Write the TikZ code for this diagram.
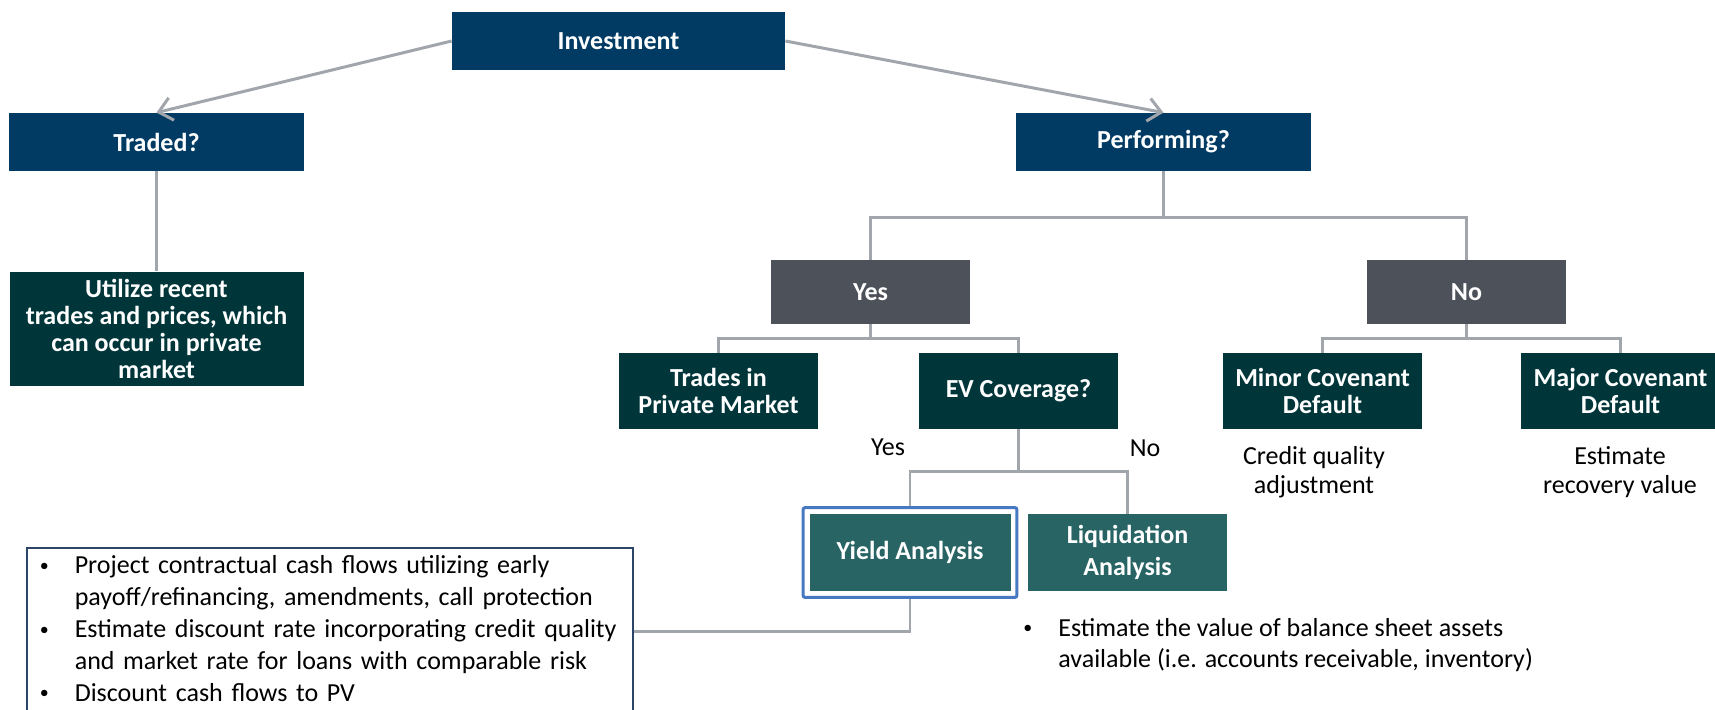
\documentclass[tikz,border=0pt]{standalone}
\usepackage{fontspec}
\setmainfont{Carlito}
\usetikzlibrary{arrows.meta,positioning,fit,calc}
\definecolor{navyc}{HTML}{013B63}
\definecolor{darkc}{HTML}{00363A}
\definecolor{slatec}{HTML}{4D5159}
\definecolor{tealc}{HTML}{296465}
\definecolor{linkc}{HTML}{A1A6AD}
\definecolor{framec}{HTML}{4679C2}
\definecolor{notec}{HTML}{2B4468}
\newcommand{\bul}{\makebox[19pt][l]{\hspace{1.5pt}\raisebox{1.2pt}{\fontsize{9}{9}\selectfont\textbullet}}}

\begin{document}
\begin{tikzpicture}[x=0.5pt, y=-0.5pt,
  box/.style={fill=#1, text=white, align=center, inner sep=2pt,
    font=\fontsize{13}{13.4}\selectfont\bfseries},
  q/.style={box=navyc, minimum width=147.5pt, minimum height=29pt},
  ans/.style={box=slatec, minimum width=99.5pt, minimum height=32pt},
  leaf/.style={box=darkc, minimum width=99.5pt, minimum height=38pt},
  method/.style={box=tealc, minimum width=99.5pt, minimum height=38.5pt,
    font=\fontsize{13}{16}\selectfont\bfseries},
  link/.style={draw=linkc, line width=1.3pt},
  arr/.style={link, line width=1.5pt, -{Straight Barb[length=6.5pt, width=11.5pt]}},
  lbl/.style={font=\fontsize{13}{14.5}\selectfont, align=center, inner sep=0pt},
  note/.style={font=\fontsize{13}{15.9}\selectfont, align=left, inner sep=0pt}
]
  \useasboundingbox (0,0) rectangle (1715,709);

  % question boxes
  \node[q, minimum width=166.5pt] (invest) at (618.5,41) {Investment};
  \node[q] (traded) at (156.5,142) {Traded?};
  \node[q] (perform) at (1163.5,142) {Performing?};
  \node[leaf, minimum width=147pt, minimum height=57pt, below=50pt of traded] (utilize)
    {Utilize recent\\trades and prices, which\\can occur in private\\market};

  % performing branch
  \node[ans] (yes) at (870.5,292) {Yes};
  \node[ans] (no) at (1466.5,292) {No};
  \node[leaf] (trades) at (718.5,391) {Trades in\\Private Market};
  \node[leaf] (ev) at (1018.5,391) {EV Coverage?};
  \node[leaf] (minor) at (1322.5,391) {Minor Covenant\\Default};
  \node[leaf] (major) at (1620.5,391) {Major Covenant\\Default};
  \node[method, minimum width=100.5pt] (yield) at (910,552.5) {Yield Analysis};
  \node[method] (liquid) at (1127.5,552.5) {Liquidation\\Analysis};
  \node[draw=framec, line width=1.5pt, rounded corners=1pt, fit=(yield), inner sep=3pt] (yieldframe) {};

  % plain labels
  \node[lbl] (evyes) at (888,447) {Yes};
  \node[lbl] (evno) at (1145,448) {No};
  \node[lbl] (minornote) at (1314,472) {Credit quality\\adjustment};
  \node[lbl] (majornote) at (1620,472) {Estimate\\recovery value};

  \node[note, draw=notec, line width=0.8pt, inner xsep=5pt, inner ysep=4pt,
    text width=293pt, anchor=north west] (yieldnote) at (26,547)
    {\bul Project contractual cash flows utilizing early\\
     \hspace*{19pt}payoff/refinancing, amendments, call protection\\
     \bul Estimate discount rate incorporating credit quality\\
     \hspace*{19pt}and market rate for loans with comparable risk\\
     \bul Discount cash flows to PV\rule[-3pt]{0pt}{3pt}};
  \node[note, anchor=west] (liqnote) at (1020,645)
    {\bul Estimate the value of balance sheet assets\\
     \hspace*{19pt}available (i.e. accounts receivable, inventory)};

  % connectors
  \draw[arr] (invest.west) -- (traded.north);
  \draw[arr] (invest.east) -- (perform.north);
  \draw[link] (traded.south) -- (traded.south |- utilize.north);
  \foreach \k in {yes,no}
    \draw[link] (perform.south) -- ++(0,-23pt) -| (\k.north);
  \foreach \k in {trades,ev}
    \draw[link] (yes.south) -- ++(0,-7pt) -| (\k.north);
  \foreach \k in {minor,major}
    \draw[link] (no.south) -- ++(0,-7pt) -| (\k.north);
  \foreach \k in {yieldframe,liquid}
    \draw[link] (ev.south) -- ++(0,-21pt) -| (\k.north);
  \draw[link] (yieldframe.south) |- (yieldnote.east);
\end{tikzpicture}
\end{document}
